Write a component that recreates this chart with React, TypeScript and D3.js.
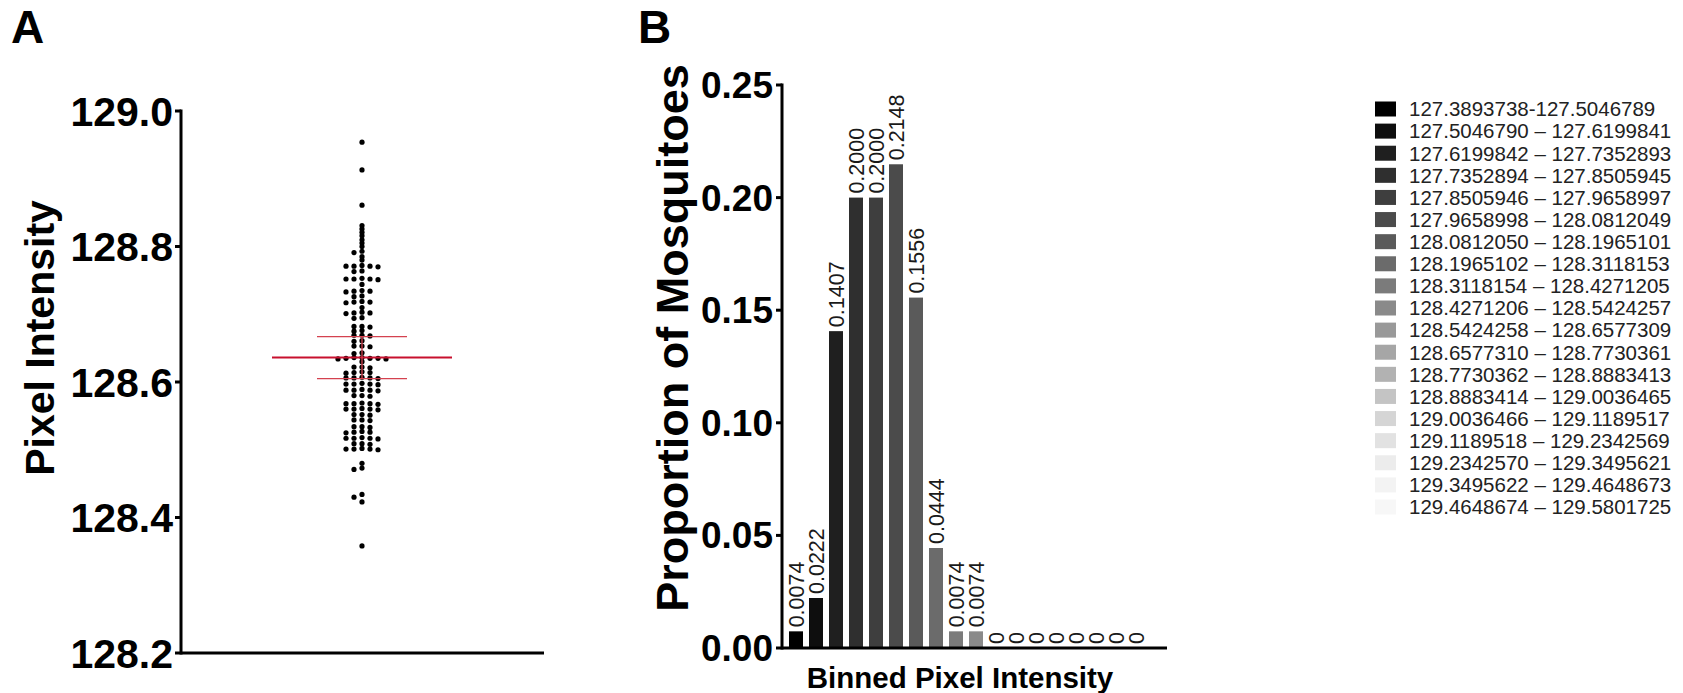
import React from 'react';
import * as d3 from 'd3';

// ---------- Panel A data ----------
const pixelValues: number[] = [
  128.954, 128.913, 128.861, 128.831,
  128.826, 128.821, 128.816, 128.810, 128.805, 128.800,
  128.793, 128.791, 128.785, 128.780,
  128.772, 128.771, 128.771, 128.770, 128.771,
  128.764, 128.763,
  128.753, 128.752, 128.752, 128.751, 128.752,
  128.744,
  128.735, 128.734, 128.734, 128.733,
  128.727, 128.726,
  128.719, 128.718, 128.718, 128.717,
  128.710,
  128.702, 128.702, 128.701, 128.703,
  128.695, 128.694,
  128.682, 128.682, 128.681,
  128.676, 128.675,
  128.669, 128.669, 128.668,
  128.661, 128.660,
  128.653, 128.653, 128.652,
  128.643, 128.642,
  128.636, 128.635, 128.635, 128.634, 128.635, 128.636, 128.634,
  128.630,
  128.622, 128.622, 128.621,
  128.614, 128.614, 128.613, 128.615,
  128.606, 128.606, 128.605, 128.607, 128.606,
  128.597, 128.598, 128.597, 128.596, 128.597,
  128.588, 128.588, 128.589, 128.587, 128.588,
  128.580, 128.580, 128.579,
  128.568, 128.568, 128.567, 128.569, 128.568,
  128.560, 128.560, 128.561, 128.559, 128.560,
  128.552, 128.552, 128.551,
  128.544, 128.544, 128.543,
  128.534, 128.534, 128.533,
  128.526, 128.526, 128.525, 128.527,
  128.517, 128.517, 128.518, 128.516, 128.517,
  128.509, 128.509, 128.508,
  128.501, 128.501, 128.500, 128.502, 128.501,
  128.480, 128.473, 128.471,
  128.434, 128.430, 128.423,
  128.358,
];
const meanValue = 128.636;
const errorLow = 128.605;
const errorHigh = 128.667;
const yTicksA = [128.2, 128.4, 128.6, 128.8, 129.0];

// ---------- Panel B data ----------
const binLabels = [
  '127.3893738-127.5046789',
  '127.5046790 \u2013 127.6199841',
  '127.6199842 \u2013 127.7352893',
  '127.7352894 \u2013 127.8505945',
  '127.8505946 \u2013 127.9658997',
  '127.9658998 \u2013 128.0812049',
  '128.0812050 \u2013 128.1965101',
  '128.1965102 \u2013 128.3118153',
  '128.3118154 \u2013 128.4271205',
  '128.4271206 \u2013 128.5424257',
  '128.5424258 \u2013 128.6577309',
  '128.6577310 \u2013 128.7730361',
  '128.7730362 \u2013 128.8883413',
  '128.8883414 \u2013 129.0036465',
  '129.0036466 \u2013 129.1189517',
  '129.1189518 \u2013 129.2342569',
  '129.2342570 \u2013 129.3495621',
  '129.3495622 \u2013 129.4648673',
  '129.4648674 \u2013 129.5801725',
];
// bars shown in the plot (10 non-zero bins followed by 8 zero bins)
const proportions = [0.0074, 0.0222, 0.1407, 0.2, 0.2, 0.2148, 0.1556, 0.0444, 0.0074, 0.0074, 0, 0, 0, 0, 0, 0, 0, 0];
const proportionLabels = ['0.0074', '0.0222', '0.1407', '0.2000', '0.2000', '0.2148', '0.1556', '0.0444', '0.0074', '0.0074', '0', '0', '0', '0', '0', '0', '0', '0'];
const binColors = [
  '#000000', '#0e0e0e', '#1f1f1f', '#2f2f2f', '#3e3e3e', '#4b4b4b', '#5a5a5a', '#6b6b6b', '#7b7b7b', '#8a8a8a',
  '#999999', '#a6a6a6', '#b2b2b2', '#c4c4c4', '#d5d5d5', '#e2e2e2', '#ececec', '#f3f3f3', '#f7f7f7',
];
const yTicksB = [0, 0.05, 0.1, 0.15, 0.2, 0.25];

const FONT = '"Liberation Sans", Arial, Helvetica, sans-serif';

function beeswarm(values: number[], y: (v: number) => number, step: number, thr: number) {
  const order = values.map((v, i) => i).sort((a, b) => values[b] - values[a]);
  const placed: { col: number; py: number }[] = [];
  const out: { cx: number; cy: number }[] = [];
  const cand = [0, -1, 1, -2, 2, -3, 3, -4, 4];
  for (const i of order) {
    const py = y(values[i]);
    let col = 0;
    for (const c of cand) {
      if (!placed.some((p) => p.col === c && Math.abs(p.py - py) < thr)) { col = c; break; }
    }
    placed.push({ col, py });
    out.push({ cx: col * step, cy: py });
  }
  return out;
}

export default function App() {
  // Panel A scales
  const axA = { left: 181, right: 544, top: 111, bottom: 653 };
  const yA = d3.scaleLinear().domain([128.2, 129.0]).range([axA.bottom, axA.top]);
  const centerA = 362;
  const dots = beeswarm(pixelValues, yA, 8, 3.0);

  // Panel B scales
  const axB = { left: 782, right: 1167, top: 85, bottom: 648 };
  const yB = d3.scaleLinear().domain([0, 0.25]).range([axB.bottom, axB.top]);
  const xB = d3.scaleBand<number>().domain(d3.range(proportions.length)).range([784, 1148]).paddingInner(0.3).paddingOuter(0.25);

  const legendY = d3.scaleLinear().domain([0, binLabels.length - 1]).range([109, 507]);

  return (
    <svg width={1683} height={693} style={{ position: 'absolute', left: 0, top: 0, background: '#fff' }} fontFamily={FONT}>
      <rect width={1683} height={693} fill="#fff" />
      {/* Panel letters */}
      <text x={11} y={43} fontSize={46} fontWeight="bold">A</text>
      <text x={638} y={43} fontSize={46} fontWeight="bold">B</text>

      {/* ---------- Panel A ---------- */}
      <g>
        <line x1={axA.left} x2={axA.left} y1={axA.top - 1.5} y2={axA.bottom + 1.5} stroke="#000" strokeWidth={3} />
        <line x1={axA.left} x2={axA.right} y1={axA.bottom} y2={axA.bottom} stroke="#000" strokeWidth={3} />
        {yTicksA.map((t) => (
          <g key={t}>
            <line x1={axA.left - 6} x2={axA.left} y1={yA(t)} y2={yA(t)} stroke="#000" strokeWidth={3} />
            <text x={axA.left - 8} y={yA(t) + 14.5} textAnchor="end" fontSize={41} fontWeight="bold">{t.toFixed(1)}</text>
          </g>
        ))}
        <text transform={`translate(54, 338) rotate(-90)`} textAnchor="middle" fontSize={41} fontWeight="bold">Pixel Intensity</text>
        {dots.map((d, i) => (
          <circle key={i} cx={centerA + d.cx} cy={d.cy} r={2.6} fill="#000" />
        ))}
        {/* mean and error bars */}
        <line x1={centerA - 90} x2={centerA + 90} y1={yA(meanValue)} y2={yA(meanValue)} stroke="#c8102e" strokeWidth={2} />
        <line x1={centerA - 45} x2={centerA + 45} y1={yA(errorHigh)} y2={yA(errorHigh)} stroke="#d4424f" strokeWidth={1.3} />
        <line x1={centerA - 45} x2={centerA + 45} y1={yA(errorLow)} y2={yA(errorLow)} stroke="#d4424f" strokeWidth={1.3} />
        <line x1={centerA} x2={centerA} y1={yA(errorHigh)} y2={yA(errorLow)} stroke="#d4424f" strokeWidth={1.3} />
      </g>

      {/* ---------- Panel B ---------- */}
      <g>
        {proportions.map((p, i) => (
          <rect key={i} x={xB(i)} width={xB.bandwidth()} y={yB(p)} height={axB.bottom - yB(p)} fill={binColors[i]} />
        ))}
        {proportions.map((p, i) => {
          const cx = (xB(i) as number) + xB.bandwidth() / 2;
          return (
            <text key={i} transform={`translate(${cx}, ${yB(p) - 4}) rotate(-90)`} dy="0.36em" fontSize={21.5} fill="#1a1a1a">{proportionLabels[i]}</text>
          );
        })}
        <line x1={axB.left} x2={axB.left} y1={axB.top - 1.5} y2={axB.bottom + 1.5} stroke="#000" strokeWidth={3} />
        <line x1={axB.left} x2={axB.right} y1={axB.bottom} y2={axB.bottom} stroke="#000" strokeWidth={3} />
        {yTicksB.map((t) => (
          <g key={t}>
            <line x1={axB.left - 6} x2={axB.left} y1={yB(t)} y2={yB(t)} stroke="#000" strokeWidth={3} />
            <text x={axB.left - 9} y={yB(t) + 13} textAnchor="end" fontSize={37} fontWeight="bold">{t.toFixed(2)}</text>
          </g>
        ))}
        <text transform={`translate(688, 338) rotate(-90)`} textAnchor="middle" fontSize={45} fontWeight="bold">Proportion of Mosquitoes</text>
        <text x={960} y={688} textAnchor="middle" fontSize={29.5} fontWeight="bold">Binned Pixel Intensity</text>
      </g>

      {/* ---------- Legend ---------- */}
      <g>
        {binLabels.map((l, i) => (
          <g key={i}>
            <rect x={1375} y={legendY(i) - 7.5} width={21} height={15} fill={binColors[i]} />
            <text x={1409} y={legendY(i)} dy="0.36em" fontSize={20.5} fill="#222">{l}</text>
          </g>
        ))}
      </g>
    </svg>
  );
}
